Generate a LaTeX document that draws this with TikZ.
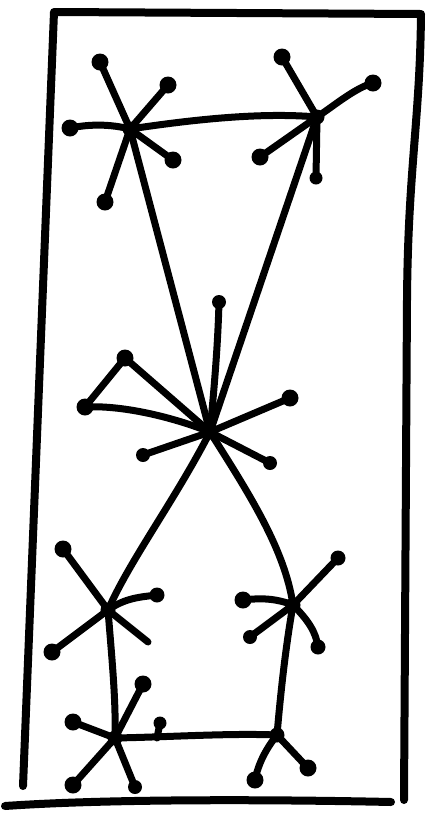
\documentclass[tikz,border=0pt]{standalone}
\begin{document}
\begin{tikzpicture}[x=1pt,y=-1pt,
  ink/.style={line width=7pt,line cap=round,line join=round},
  frame/.style={line width=8pt,line cap=round,line join=round},
  dot/.style={circle,fill=black,inner sep=0pt,minimum size=17pt},
  hub/.style={circle,fill=black,inner sep=0pt,minimum size=15pt}]
\useasboundingbox (0,0) rectangle (429,815);
% frame
\coordinate (f1) at (54,12);
\coordinate (f2) at (421,14);
\coordinate (f3) at (404,800);
\coordinate (f4) at (23,786);
\coordinate (b1) at (5,806);
\coordinate (b2) at (391,802);
\draw[frame] (f4) -- (f1) -- (f2) .. controls (420,120) and (408,170) .. (407,300) -- (f3);
\draw[frame] (b1) .. controls (120,798) and (300,800) .. (b2);
% hubs
\node[hub] (A) at (130,129) {};
\node[hub] (B) at (317,117) {};
\node[hub] (C) at (210,432) {};
\node[hub] (D) at (108,610) {};
\node[hub] (E) at (293,605) {};
\node[hub] (F) at (115,738) {};
\node[hub] (G) at (277,735) {};
% dots
\node[dot] (a1) at (100,62) {};
\node[dot] (a2) at (168,85) {};
\node[dot] (a3) at (70,128) {};
\node[dot] (a4) at (173,160) {};
\node[dot] (a5) at (105,202) {};
\node[dot] (b1d) at (282,57) {};
\node[dot] (b2d) at (373,83) {};
\node[dot] (b3d) at (260,157) {};
\node[dot,minimum size=13pt] (b4d) at (316,178) {};
\node[dot,minimum size=14pt] (c1) at (219,302) {};
\node[dot] (c2) at (125,358) {};
\node[dot] (c3) at (85,407) {};
\node[dot] (c4) at (290,398) {};
\node[dot,minimum size=14pt] (c5) at (143,455) {};
\node[dot,minimum size=14pt] (c6) at (270,463) {};
\node[dot] (d1) at (63,549) {};
\node[dot,minimum size=15pt] (d2) at (157,595) {};
\coordinate (d3) at (148,642);
\node[dot] (d4) at (52,652) {};
\node[dot,minimum size=15pt] (e1) at (338,558) {};
\node[dot] (e2) at (243,600) {};
\node[dot,minimum size=14pt] (e3) at (250,637) {};
\node[dot,minimum size=15pt] (e4) at (318,647) {};
\node[dot] (f1d) at (143,684) {};
\node[dot] (f2d) at (73,722) {};
\node[dot] (f3d) at (73,785) {};
\node[dot,minimum size=14pt] (f4d) at (135,787) {};
\node[dot,minimum size=13pt] (f5) at (160,723) {};
\node[dot] (g1) at (255,780) {};
\node[dot] (g2) at (308,768) {};
% main edges
\draw[ink] (A.center) .. controls (190,120) and (260,112) .. (B.center);
\draw[ink] (A.center) -- (C.center);
\draw[ink] (B.center) -- (C.center);
\draw[ink] (C.center) .. controls (175,500) and (130,560) .. (D.center);
\draw[ink] (C.center) .. controls (250,495) and (285,550) .. (E.center);
\draw[ink] (D.center) .. controls (112,660) and (116,700) .. (F.center);
\draw[ink] (E.center) .. controls (285,650) and (280,700) .. (G.center);
\draw[ink] (F.center) .. controls (170,737) and (230,733) .. (G.center);
% spokes A
\draw[ink] (A.center) -- (a1.center);
\draw[ink] (A.center) -- (a2.center);
\draw[ink] (A.center) .. controls (110,124) and (90,124) .. (a3.center);
\draw[ink] (A.center) -- (a4.center);
\draw[ink] (A.center) -- (a5.center);
% spokes B
\draw[ink] (B.center) -- (b1d.center);
\draw[ink] (B.center) .. controls (335,105) and (355,88) .. (b2d.center);
\draw[ink] (B.center) -- (b3d.center);
\draw[ink] (B.center) -- (b4d.center);
% spokes C
\draw[ink] (C.center) .. controls (215,380) and (218,340) .. (c1.center);
\draw[ink] (C.center) -- (c2.center) -- (c3.center);
\draw[ink] (C.center) .. controls (170,416) and (120,405) .. (c3.center);
\draw[ink] (C.center) -- (c4.center);
\draw[ink] (C.center) -- (c5.center);
\draw[ink] (C.center) -- (c6.center);
% spokes D
\draw[ink] (D.center) -- (d1.center);
\draw[ink] (D.center) .. controls (125,598) and (140,597) .. (d2.center);
\draw[ink] (D.center) -- (d3);
\draw[ink] (D.center) -- (d4.center);
% spokes E
\draw[ink] (E.center) -- (e1.center);
\draw[ink] (E.center) .. controls (275,598) and (260,598) .. (e2.center);
\draw[ink] (E.center) -- (e3.center);
\draw[ink] (E.center) .. controls (308,620) and (316,632) .. (e4.center);
% spokes F
\draw[ink] (F.center) -- (f1d.center);
\draw[ink] (F.center) -- (f2d.center);
\draw[ink] (F.center) -- (f3d.center);
\draw[ink] (F.center) -- (f4d.center);
\draw[ink] (157,738) -- (f5.center);
% spokes G
\draw[ink] (G.center) .. controls (265,750) and (258,765) .. (g1.center);
\draw[ink] (G.center) -- (g2.center);
\end{tikzpicture}
\end{document}
